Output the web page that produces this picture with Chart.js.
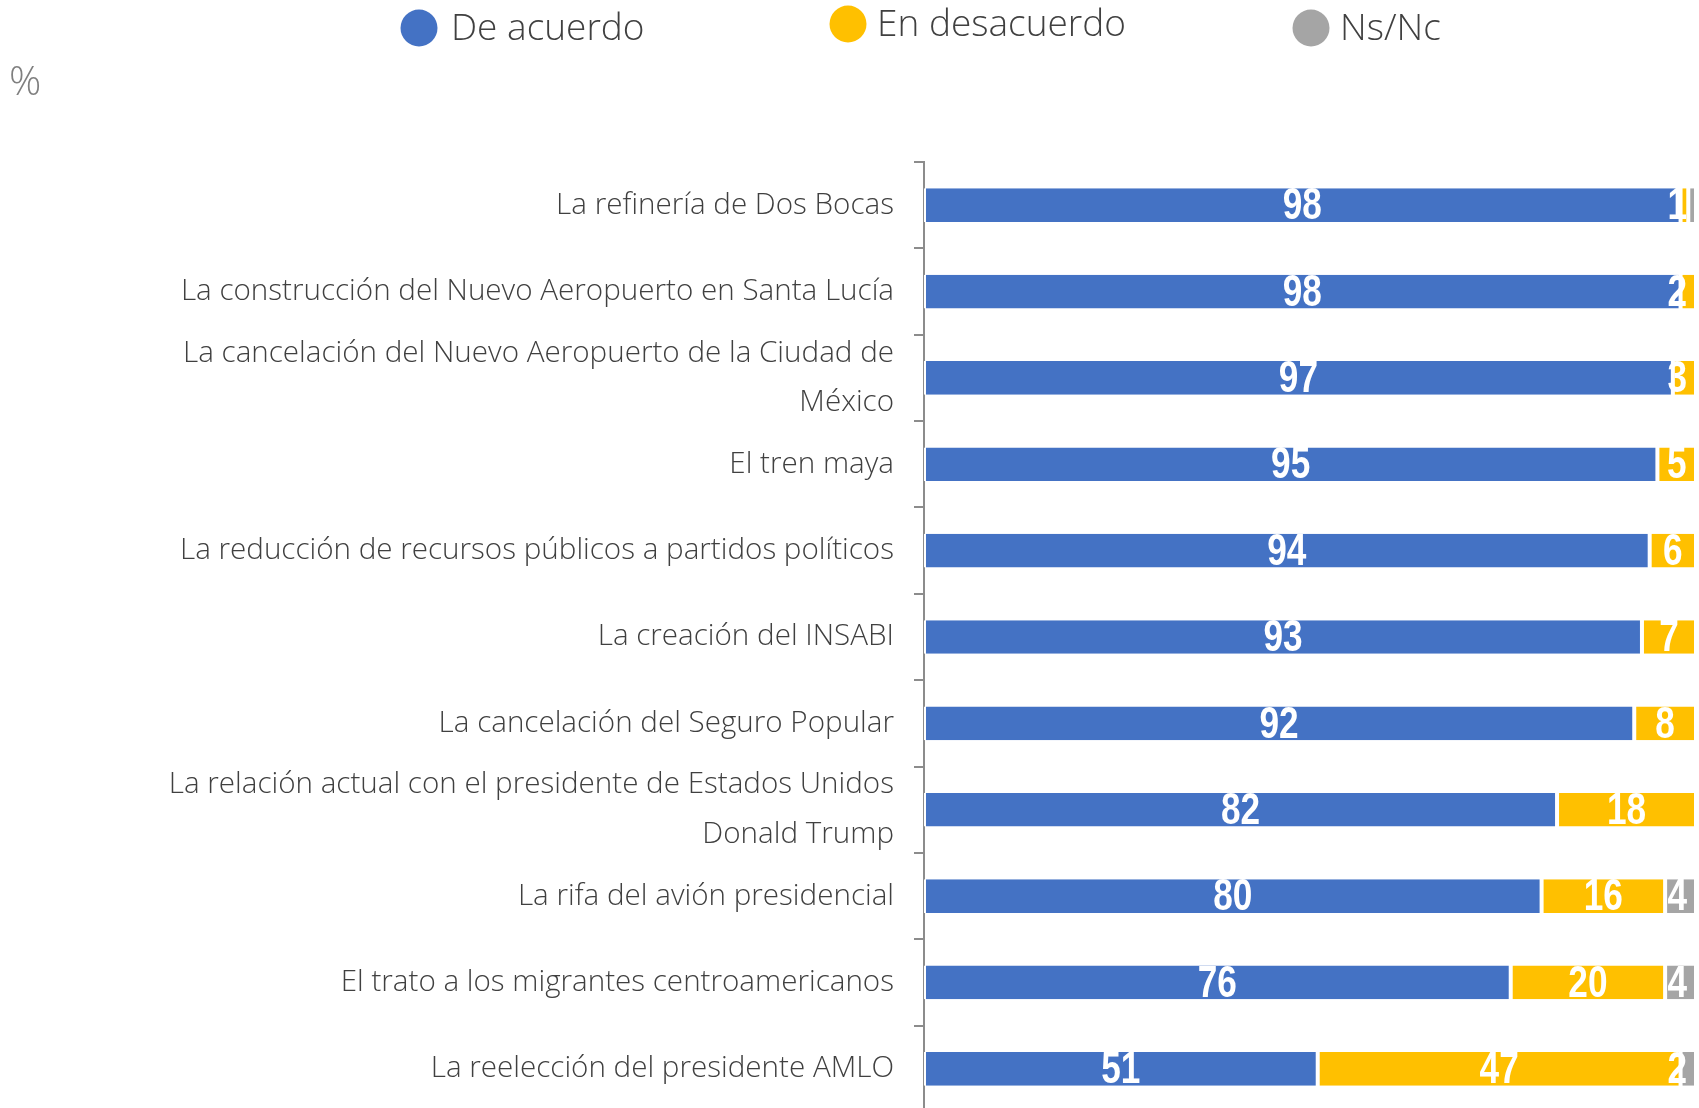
<!DOCTYPE html>
<html>
<head>
<meta charset="utf-8">
<script src="https://cdn.jsdelivr.net/npm/chart.js@4.4.1/dist/chart.umd.min.js"></script>
<style>
  html, body { margin: 0; padding: 0; background: #fff; overflow: hidden; }
  #wrap { position: relative; width: 1699px; height: 1115px; }
</style>
</head>
<body>
<div id="wrap"><canvas id="chart"></canvas></div>
<script>
// Categories (top to bottom)
const categories = [
    'La refinería de Dos Bocas',
    'La construcción del Nuevo Aeropuerto en Santa Lucía',
    ['La cancelación del Nuevo Aeropuerto de la Ciudad de', 'México'],
    'El tren maya',
    'La reducción de recursos públicos a partidos políticos',
    'La creación del INSABI',
    'La cancelación del Seguro Popular',
    ['La relación actual con el presidente de Estados Unidos', 'Donald Trump'],
    'La rifa del avión presidencial',
    'El trato a los migrantes centroamericanos',
    'La reelección del presidente AMLO'
];

// Series values (%)
const deAcuerdo    = [98, 98, 97, 95, 94, 93, 92, 82, 80, 76, 51];
const enDesacuerdo = [1, 2, 3, 5, 6, 7, 8, 18, 16, 20, 47];
const nsNc         = [1, 0, 0, 0, 0, 0, 0, 0, 4, 4, 2];

const seriesNames = ['De acuerdo', 'En desacuerdo', 'Ns/Nc'];
const seriesColors = ['#4472C4', '#FFC000', '#A5A5A5'];

const FONT = '"Open Sans", "Noto Sans", sans-serif';
const LABEL_FONT = '"Liberation Sans", Arial, sans-serif';

// Legend + "%" drawn on top, bar value labels in the middle of each segment
const overlayPlugin = {
    id: 'overlay',
    afterDatasetsDraw(chart) {
        const ctx = chart.ctx;
        const area = chart.chartArea;
        const squeeze = 0.8; // narrow look
        ctx.save();
        ctx.font = 'bold 44px ' + LABEL_FONT;
        ctx.fillStyle = '#fff';
        ctx.textAlign = 'center';
        ctx.textBaseline = 'middle';
        const lastX = {};
        chart.data.datasets.forEach((ds, di) => {
            const meta = chart.getDatasetMeta(di);
            meta.data.forEach((bar, i) => {
                const v = ds.data[i];
                if (!v) return;
                const txt = String(v);
                const w = ctx.measureText(txt).width * squeeze;
                let x = (bar.base + bar.x) / 2;
                x = Math.min(x, area.right - 9 - w / 2);
                if (lastX[i] !== undefined && Math.abs(x - lastX[i]) < 15) return;
                lastX[i] = x;
                ctx.save();
                ctx.translate(x, bar.y + 2);
                ctx.scale(squeeze, 1);
                ctx.fillText(txt, 0, 0);
                ctx.restore();
            });
        });
        ctx.restore();
    },
    afterDraw(chart) {
        const ctx = chart.ctx;
        ctx.save();
        // legend
        const legendX = [419, 848, 1311];
        const legendY = [28, 24, 28];
        const textGap = [32, 29, 29];
        ctx.font = '300 37px ' + FONT;
        ctx.textBaseline = 'middle';
        ctx.textAlign = 'left';
        seriesNames.forEach((name, i) => {
            ctx.fillStyle = seriesColors[i];
            ctx.beginPath();
            ctx.arc(legendX[i], legendY[i], 18.5, 0, Math.PI * 2);
            ctx.fill();
            ctx.fillStyle = '#404040';
            ctx.fillText(name, legendX[i] + textGap[i], legendY[i] + 1);
        });
        // unit
        ctx.font = '300 40px ' + FONT;
        ctx.fillStyle = '#7f7f7f';
        ctx.fillText('%', 9, 84);
        ctx.restore();
    }
};

new Chart(document.getElementById('chart'), {
    type: 'bar',
    data: {
        labels: categories,
        datasets: [deAcuerdo, enDesacuerdo, nsNc].map((vals, i) => ({
            label: seriesNames[i],
            data: vals,
            backgroundColor: seriesColors[i],
            borderColor: '#ffffff',
            borderWidth: { left: 2, right: 2, top: 0, bottom: 0 },
            borderSkipped: false,
            barPercentage: 0.39,
            categoryPercentage: 1
        }))
    },
    options: {
        indexAxis: 'y',
        responsive: true,
        maintainAspectRatio: false,
        animation: false,
        layout: {
            padding: { top: 162, right: 3, bottom: 3, left: 0 }
        },
        plugins: {
            legend: { display: false },
            tooltip: { enabled: false }
        },
        scales: {
            x: {
                stacked: true,
                min: 0,
                max: 100,
                display: false
            },
            y: {
                stacked: true,
                afterFit(scale) {
                    scale.width = 924;
                    scale.paddingTop = 0;
                    scale.paddingBottom = 0;
                },
                border: { display: true, color: '#8c8c8c', width: 2 },
                grid: {
                    drawOnChartArea: false,
                    drawTicks: true,
                    tickLength: 10,
                    color: '#8c8c8c',
                    lineWidth: 2
                },
                ticks: {
                    autoSkip: false,
                    color: '#404040',
                    padding: 20,
                    font: { family: FONT, size: 29.6, weight: 300, lineHeight: 1.67 }
                }
            }
        }
    },
    plugins: [overlayPlugin]
});
</script>
</body>
</html>
